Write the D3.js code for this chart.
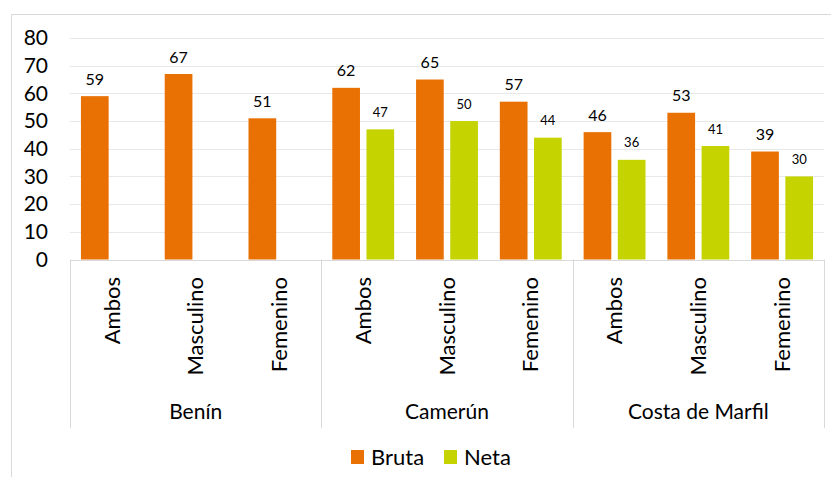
<!DOCTYPE html>
<html>
<head>
<meta charset="utf-8">
<script src="https://cdn.jsdelivr.net/npm/d3@7/dist/d3.min.js"></script>
<style>
  html, body { margin: 0; padding: 0; background: #fff; }
  svg { display: block; }
  text { font-family: Lato, "Open Sans", sans-serif; fill: #000; }
</style>
</head>
<body>
<svg id="chart" width="831" height="477"></svg>
<script>
// Tasa bruta y neta por país y sexo
const countries = ["Benín", "Camerún", "Costa de Marfil"];
const sexes = ["Ambos", "Masculino", "Femenino"];
const seriesNames = ["Bruta", "Neta"];
const bruta = [59, 67, 51, 62, 65, 57, 46, 53, 39];
const neta = [null, null, null, 47, 50, 44, 36, 41, 30];
const yTicks = [0, 10, 20, 30, 40, 50, 60, 70, 80];

const colors = { Bruta: "#e97104", Neta: "#c5d300" };

const svg = d3.select("#chart");
const W = 831, H = 477;
const plotL = 70, plotR = 824, plotT = 38, plotB = 259.5;

// outer frame
svg.append("path")
  .attr("d", `M11.5,${H} V14.5 H${W}`)
  .attr("fill", "none").attr("stroke", "#d9d9d9").attr("stroke-width", 1);

// rows: one per (country, sex)
const rows = [];
countries.forEach((c, ci) => sexes.forEach((s, si) => {
  const i = ci * sexes.length + si;
  rows.push({ key: c + "|" + s, country: c, sex: s, Bruta: bruta[i], Neta: neta[i] });
}));

const x0 = d3.scaleBand().domain(rows.map(r => r.key)).range([plotL, plotR]).padding(0);
const x1 = d3.scaleBand().domain(seriesNames).range([0, x0.bandwidth()])
  .paddingInner(0.19).paddingOuter(0.32);
const y = d3.scaleLinear().domain([0, 80]).range([plotB, plotT]);

// gridlines
svg.append("g").selectAll("line").data(yTicks.filter(t => t > 0)).join("line")
  .attr("x1", plotL).attr("x2", plotR)
  .attr("y1", d => Math.round(y(d)) + 0.5).attr("y2", d => Math.round(y(d)) + 0.5)
  .attr("stroke", "#e8e8e8").attr("stroke-width", 1);

// y axis labels
const yAxis = d3.axisLeft(y).tickValues(yTicks).tickSize(0).tickPadding(0);
const ya = svg.append("g").attr("transform", `translate(48,0)`).call(yAxis);
ya.select(".domain").remove();
ya.selectAll("text").attr("font-size", 21).attr("fill", "#000")
  .style("font-family", "Lato, 'Open Sans', sans-serif");

// bars
const groups = svg.append("g").selectAll("g").data(rows).join("g")
  .attr("transform", d => `translate(${x0(d.key)},0)`);

groups.selectAll("rect")
  .data(d => seriesNames.filter(s => d[s] != null).map(s => ({ s, v: d[s], country: d.country })))
  .join("rect")
  .attr("x", d => x1(d.s))
  .attr("width", x1.bandwidth())
  .attr("y", d => y(d.v))
  .attr("height", d => y(0) - y(d.v))
  .attr("fill", d => colors[d.s]);

// value labels
groups.selectAll("text.val")
  .data(d => seriesNames.filter(s => d[s] != null).map(s => ({ s, v: d[s], country: d.country })))
  .join("text")
  .attr("class", "val")
  .attr("x", d => x1(d.s) + x1.bandwidth() / 2)
  .attr("y", d => y(d.v) - 17)
  .attr("dy", "0.35em")
  .attr("text-anchor", "middle")
  .attr("font-size", d => d.s === "Neta" ? 13 : 16)
  .text(d => d.v);

// category axis baseline
svg.append("line").attr("x1", plotL).attr("x2", plotR)
  .attr("y1", Math.round(plotB) + 0.5).attr("y2", Math.round(plotB) + 0.5)
  .attr("stroke", "#d9d9d9");

// group separators
const sepX = [plotL].concat(countries.map(c => x0(c + "|" + sexes[sexes.length - 1]) + x0.bandwidth()));
svg.append("g").selectAll("line").data(sepX).join("line")
  .attr("x1", d => Math.round(d) + 0.5).attr("x2", d => Math.round(d) + 0.5)
  .attr("y1", plotB).attr("y2", 428)
  .attr("stroke", "#d9d9d9");

// sex labels (rotated)
svg.append("g").selectAll("text").data(rows).join("text")
  .attr("transform", d => `translate(${x0(d.key) + x0.bandwidth() / 2},277) rotate(-90)`)
  .attr("text-anchor", "end")
  .attr("dy", "0.35em")
  .attr("font-size", 22)
  .text(d => d.sex);

// country labels
svg.append("g").selectAll("text").data(countries).join("text")
  .attr("x", c => (x0(c + "|" + sexes[0]) + x0(c + "|" + sexes[2]) + x0.bandwidth()) / 2)
  .attr("y", 412)
  .attr("dy", "0.35em")
  .attr("text-anchor", "middle")
  .attr("font-size", 21)
  .text(c => c);

// legend
const legendX = [351, 444];
const lg = svg.append("g").selectAll("g").data(seriesNames).join("g")
  .attr("transform", (d, i) => `translate(${legendX[i]},450)`);
lg.append("rect").attr("width", 13).attr("height", 14).attr("fill", d => colors[d]);
lg.append("text").attr("x", 20).attr("y", 7).attr("dy", "0.35em")
  .attr("font-size", 22).text(d => d);
</script>
</body>
</html>
